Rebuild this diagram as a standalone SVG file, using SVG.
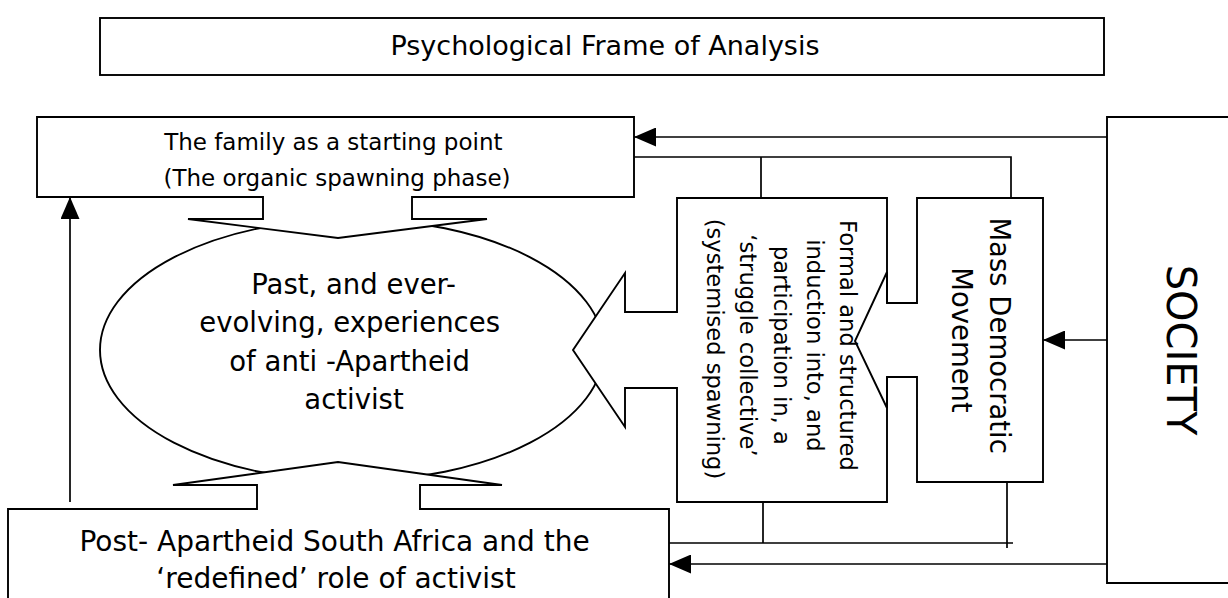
<svg xmlns="http://www.w3.org/2000/svg" width="1228" height="598" viewBox="0 0 1228 598">
  <style>
    .shape { fill: #fff; stroke: #000; stroke-width: 1.9; }
    .edge { fill: none; stroke: #000; stroke-width: 1.9; }
    .fillonly { fill: #fff; stroke: none; }
    .t { font-family: "DejaVu Sans", Verdana, sans-serif; fill: #000; text-anchor: middle; }
    .conn { fill: none; stroke: #000; stroke-width: 1.7; }
  </style>
  <defs>
    <marker id="ah" viewBox="0 0 22 19" refX="22" refY="9.5" markerWidth="22" markerHeight="19" orient="auto" markerUnits="userSpaceOnUse">
      <path d="M0,0 L22,9.5 L0,19 z" fill="#000"/>
    </marker>
  </defs>
  <rect width="1228" height="598" fill="#fff"/>

  <g id="title">
    <rect class="shape" x="100" y="18" width="1004" height="57"/>
    <text class="t" x="605" y="55" font-size="27">Psychological Frame of Analysis</text>
  </g>

  <g id="experiences">
    <ellipse class="shape" cx="352" cy="350" rx="252" ry="131"/>
    <text class="t" font-size="27.5">
      <tspan x="358" y="294">Past, and ever-</tspan>
      <tspan x="354" y="332">evolving, experiences</tspan>
      <tspan x="354" y="371">of anti -Apartheid</tspan>
      <tspan x="354" y="409">activist</tspan>
    </text>
  </g>

  <g id="family">
    <path class="shape" d="M37,117 H634 V197 H412 V219 H487 L338,238 L188,219 H263 V197 H37 Z"/>
    <text class="t" font-size="23">
      <tspan x="337" y="150">The family as a starting point</tspan>
      <tspan x="337" y="186">(The organic spawning phase)</tspan>
    </text>
  </g>

  <g id="post-apartheid">
    <path class="shape" d="M8,509 H257 V485 H173 L338,462 L502,485 H420 V509 H669 V606 H8 Z"/>
    <text class="t" font-size="28">
      <tspan x="339" y="551">Post- Apartheid South Africa and the</tspan>
      <tspan x="336" y="588">‘redefined’ role of activist</tspan>
    </text>
  </g>

  <g id="formal">
    <path class="fillonly" d="M677,198 H887 V502 H677 V388 H625 V427 L573,350 L625,273 V312 H677 Z"/>
    <path class="edge" d="M887,303 V198 H677 V312 H625 V273 L573,350 L625,427 V388 H677 V502 H887 V377"/>
    <text class="t" font-size="22.6" transform="translate(840,349) rotate(90)">
      <tspan x="0" y="0">Formal and structured</tspan>
      <tspan x="0" dy="33.25">induction into, and</tspan>
      <tspan x="0" dy="33.25">participation in, a</tspan>
      <tspan x="0" dy="33.25">‘struggle collective’</tspan>
      <tspan x="0" dy="33.25">(systemised spawning)</tspan>
    </text>
  </g>

  <g id="mass-democratic-movement">
    <path class="edge" d="M917,198 H1043 V482 H917 V377 H887 V408 L855,341 L887,272 V303 H917 Z"/>
    <text class="t" font-size="27.5" transform="translate(990,340) rotate(90)">
      <tspan x="0" y="0">Mass Democratic</tspan>
      <tspan x="0" dy="38">Movement</tspan>
    </text>
  </g>

  <g id="society">
    <path class="shape" d="M1240,117 H1107 V583 H1240"/>
    <text class="t" font-size="40" transform="translate(1167,350) rotate(90)">SOCIETY</text>
  </g>

  <g id="connectors">
    <path class="conn" d="M1107,137 H634" marker-end="url(#ah)"/>
    <path class="conn" d="M634,157 H1011 V198 M761,157 V198"/>
    <path class="conn" d="M1107,340 H1043" marker-end="url(#ah)"/>
    <path class="conn" d="M669,543 H1013 M763,502 V543 M1007,482 V548"/>
    <path class="conn" d="M1107,564 H669" marker-end="url(#ah)"/>
    <path class="conn" d="M70,502 V197" marker-end="url(#ah)"/>
  </g>
</svg>
